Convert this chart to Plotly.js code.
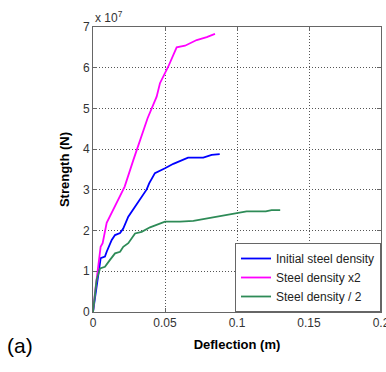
<!DOCTYPE html>
<html>
<head>
<meta charset="utf-8">
<script src="https://cdn.plot.ly/plotly-3.0.1.min.js"></script>
<style>html,body{margin:0;padding:0;background:#fff;}#chart{width:386px;height:372px;}</style>
</head>
<body>
<div id="chart"></div>
<script>
// Deflection (m) and strength (units of 1e7 N)
var blueX = [0, 0.0037, 0.0053, 0.0083, 0.0095, 0.013, 0.0153, 0.0188, 0.021, 0.0245, 0.0292, 0.0326, 0.0373, 0.039, 0.043, 0.05, 0.0558, 0.066, 0.0766, 0.0824, 0.088];
var blueY = [0, 0.87, 1.32, 1.36, 1.48, 1.77, 1.89, 1.94, 2.05, 2.34, 2.59, 2.75, 3.01, 3.16, 3.41, 3.53, 3.64, 3.79, 3.79, 3.86, 3.88];

var magX = [0, 0.0016, 0.0053, 0.0067, 0.0095, 0.013, 0.0188, 0.022, 0.028, 0.035, 0.0379, 0.0442, 0.0465, 0.0523, 0.0558, 0.0581, 0.0639, 0.072, 0.079, 0.0847];
var magY = [0, 0.54, 1.6, 1.69, 2.19, 2.43, 2.83, 3.08, 3.73, 4.47, 4.76, 5.29, 5.62, 6.03, 6.31, 6.5, 6.54, 6.68, 6.75, 6.83];

var grnX = [0, 0.0025, 0.0049, 0.0083, 0.0118, 0.0153, 0.0188, 0.021, 0.0245, 0.0292, 0.0338, 0.0396, 0.05, 0.0604, 0.0697, 0.079, 0.0905, 0.1067, 0.12, 0.124, 0.13];
var grnY = [0, 0.79, 1.07, 1.11, 1.28, 1.44, 1.48, 1.6, 1.69, 1.93, 1.97, 2.08, 2.22, 2.22, 2.24, 2.3, 2.38, 2.47, 2.47, 2.5, 2.5];

var names = ['Initial steel density', 'Steel density x2', 'Steel density / 2'];
var xTicks = [0, 0.05, 0.1, 0.15, 0.2];
var xTickText = ['0', '0.05', '0.1', '0.15', '0.2'];
var yTicks = [0, 1, 2, 3, 4, 5, 6, 7];

var font = 'Liberation Sans, Arial, sans-serif';
var traces = [
  {x: blueX, y: blueY, name: names[0], mode: 'lines', line: {color: '#0000ff', width: 1.8}},
  {x: magX, y: magY, name: names[1], mode: 'lines', line: {color: '#ff00ff', width: 1.8}},
  {x: grnX, y: grnY, name: names[2], mode: 'lines', line: {color: '#2e8b57', width: 1.8}}
];

var axisCommon = {
  showline: true, mirror: 'allticks', linecolor: '#666', linewidth: 1,
  ticks: 'inside', ticklen: 4, tickcolor: '#666',
  showgrid: true, gridcolor: '#555', griddash: '1px,2px', gridwidth: 1,
  zeroline: false, tickfont: {family: font, size: 12, color: '#333'},
  ticklabeloverflow: 'allow'
};

var layout = {
  width: 386, height: 372,
  margin: {l: 93, r: 5, t: 27, b: 60},
  paper_bgcolor: '#fff', plot_bgcolor: '#fff',
  font: {family: font},
  xaxis: Object.assign({}, axisCommon, {
    range: [0, 0.2], tickvals: xTicks, ticktext: xTickText,
    title: {text: '<b>Deflection (m)</b>', font: {family: font, size: 13, color: '#000'}, standoff: 10}
  }),
  yaxis: Object.assign({}, axisCommon, {
    range: [0, 7], tickvals: yTicks,
    title: {text: '<b>Strength (N)</b>', font: {family: font, size: 13, color: '#000'}, standoff: 10}
  }),
  legend: {
    x: 1, xanchor: 'right', y: 0, yanchor: 'bottom',
    bgcolor: '#fff', bordercolor: '#666', borderwidth: 1,
    font: {family: font, size: 12, color: '#222'},
    tracegroupgap: 0
  },
  annotations: [
    {text: 'x 10<sup>7</sup>', xref: 'paper', yref: 'paper', x: 0, y: 1, xanchor: 'left', yanchor: 'bottom',
     showarrow: false, font: {family: font, size: 12, color: '#333'}},
    {text: '(a)', xref: 'paper', yref: 'paper', x: -0.3, y: -0.07, xanchor: 'left', yanchor: 'top',
     showarrow: false, font: {family: font, size: 21, color: '#000'}, xshift: -2}
  ],
  showlegend: true
};

Plotly.newPlot('chart', traces, layout, {displayModeBar: false, staticPlot: true});
</script>
</body>
</html>
